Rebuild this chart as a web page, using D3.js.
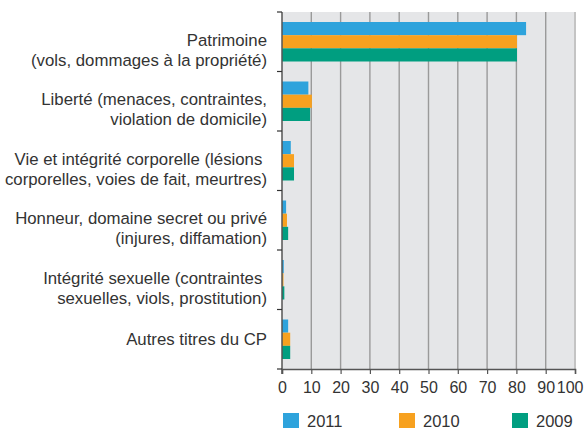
<!DOCTYPE html>
<html>
<head>
<meta charset="utf-8">
<script src="https://cdn.jsdelivr.net/npm/d3@7"></script>
<style>
  body { margin: 0; background: #fff; }
  svg { display: block; font-family: "Liberation Sans", Arial, sans-serif; }
</style>
</head>
<body>
<div id="chart"></div>
<script>
// categories (two lines each where the label wraps)
const categories = [
  ["Patrimoine", "(vols, dommages à la propriété)"],
  ["Liberté (menaces, contraintes,", "violation de domicile)"],
  ["Vie et intégrité corporelle (lésions ", "corporelles, voies de fait, meurtres)"],
  ["Honneur, domaine secret ou privé", "(injures, diffamation)"],
  ["Intégrité sexuelle (contraintes ", "sexuelles, viols, prostitution)"],
  ["Autres titres du CP"]
];
const years = ["2011", "2010", "2009"];
const values2011 = [83.3, 9.0, 3.0, 1.4, 0.6, 2.1];
const values2010 = [80.2, 10.2, 4.1, 1.7, 0.5, 2.8];
const values2009 = [80.2, 9.6, 4.1, 2.1, 0.8, 2.8];
const xTicks = [0, 10, 20, 30, 40, 50, 60, 70, 80, 90, 100];
const colors = { "2011": "#2ea3dc", "2010": "#f7a11f", "2009": "#009e80" };

const series = { "2011": values2011, "2010": values2010, "2009": values2009 };

const width = 584, height = 430;
const margin = { top: 12, left: 282, right: 9, bottom: 61 };
const plotW = width - margin.left - margin.right;
const plotH = height - margin.top - margin.bottom;

const svg = d3.select("#chart").append("svg")
  .attr("width", width)
  .attr("height", height);

const g = svg.append("g").attr("transform", `translate(${margin.left},${margin.top})`);

const x = d3.scaleLinear().domain([0, 100]).range([0, plotW]);
const y = d3.scaleBand().domain(d3.range(categories.length)).range([0, plotH]);
const yInner = d3.scaleBand().domain(years).range([10, y.bandwidth() - 10]);

// background
g.append("rect")
  .attr("width", plotW)
  .attr("height", plotH)
  .attr("fill", "#e5e6e8");

// grid lines
g.append("g")
  .selectAll("line")
  .data(xTicks.filter(d => d > 0))
  .join("line")
  .attr("x1", d => x(d)).attr("x2", d => x(d))
  .attr("y1", 0).attr("y2", plotH)
  .attr("stroke", d => d === 100 ? "#c4c4c4" : "#9a9a9a")
  .attr("stroke-width", d => d === 100 ? 2 : 1.4);

// bars
const groups = g.append("g")
  .selectAll("g")
  .data(categories.map((c, i) => i))
  .join("g")
  .attr("transform", i => `translate(0,${y(i)})`);

groups.selectAll("rect")
  .data(i => years.map(yr => ({ yr, v: series[yr][i] })))
  .join("rect")
  .attr("x", 0)
  .attr("y", d => yInner(d.yr))
  .attr("width", d => x(d.v))
  .attr("height", yInner.bandwidth())
  .attr("fill", d => colors[d.yr]);

// y axis line and ticks at band edges
g.append("line")
  .attr("x1", 0).attr("x2", 0)
  .attr("y1", 0).attr("y2", plotH + 5)
  .attr("stroke", "#555").attr("stroke-width", 1.5);

g.append("g")
  .selectAll("line")
  .data(d3.range(categories.length + 1))
  .join("line")
  .attr("x1", -5).attr("x2", 0)
  .attr("y1", i => i * y.step()).attr("y2", i => i * y.step())
  .attr("stroke", "#333").attr("stroke-width", 1.2);

// x axis
const xAxis = g.append("g")
  .attr("transform", `translate(0,${plotH})`)
  .call(d3.axisBottom(x).tickValues(xTicks).tickSize(5).tickPadding(8));
xAxis.select(".domain").attr("stroke", "#555").attr("stroke-width", 1.5);
xAxis.selectAll(".tick line").attr("stroke", "#555").attr("stroke-width", 1.2);
xAxis.selectAll(".tick text")
  .attr("font-size", 16)
  .attr("font-family", "Liberation Sans, Arial, sans-serif")
  .attr("fill", "#333");
// last label pulled in so it stays inside the frame
xAxis.selectAll(".tick text").filter(d => d === 100)
  .attr("text-anchor", "end")
  .attr("x", 8);

// category labels
const labels = g.append("g")
  .selectAll("text")
  .data(categories)
  .join("text")
  .attr("text-anchor", "end")
  .attr("font-size", 16.8)
  .attr("fill", "#333")
  .attr("x", -15)
  .attr("y", (d, i) => y(i) + y.bandwidth() / 2 + (d.length > 1 ? 4 : 5.5));

labels.selectAll("tspan")
  .data(d => d)
  .join("tspan")
  .attr("x", -15)
  .attr("dy", (d, j) => j === 0 ? 0 : 20)
  .text(d => d);

// legend
const legendX = [283, 399, 512];
const legend = svg.append("g")
  .selectAll("g")
  .data(years)
  .join("g")
  .attr("transform", (d, i) => `translate(${legendX[i]},413)`);

legend.append("rect")
  .attr("width", 16).attr("height", 15)
  .attr("fill", d => colors[d]);

legend.append("text")
  .attr("x", 24).attr("y", 14)
  .attr("font-size", 16.5)
  .attr("fill", "#333")
  .text(d => d);
</script>
</body>
</html>
